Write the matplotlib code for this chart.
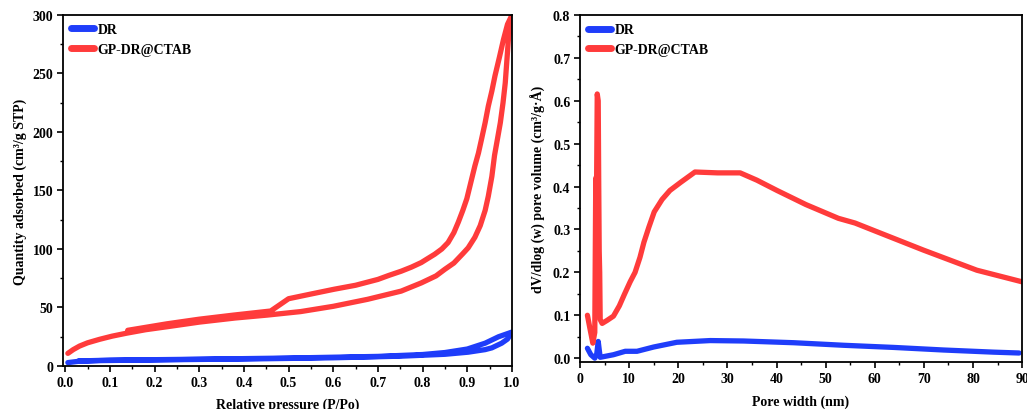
import matplotlib.pyplot as plt
from matplotlib.ticker import MultipleLocator, FormatStrFormatter

plt.rcParams['font.family'] = ['Liberation Serif', 'DejaVu Serif']
plt.rcParams['font.weight'] = 'bold'
plt.rcParams['axes.labelweight'] = 'bold'

RED = '#ff3b3b'
BLUE = '#1f3dfa'

# N2 isotherm, GP-DR@CTAB (adsorption then desorption branch)
gp_ads_p = [0.006, 0.018, 0.032, 0.05, 0.077, 0.105, 0.137, 0.18, 0.227, 0.30, 0.38, 0.452, 0.527,
            0.60, 0.677, 0.752, 0.797, 0.83, 0.85, 0.87, 0.89, 0.902, 0.917, 0.929, 0.94,
            0.947, 0.955, 0.961, 0.968, 0.974, 0.98, 0.985, 0.992, 1.0]
gp_ads_q = [10.8, 14, 17, 19.8, 22.8, 25.5, 28, 31, 33.5, 37.5, 41, 43.5, 46.5,
            51, 57, 64, 71, 77, 82.7, 88, 96, 101, 110, 120, 133,
            145, 162, 180, 195, 208, 225, 242, 279, 300]
gp_des_p = [1.0, 0.99, 0.981, 0.972, 0.962, 0.955, 0.947, 0.94, 0.932, 0.925, 0.917, 0.908,
            0.899, 0.89, 0.88, 0.87, 0.857, 0.843, 0.827, 0.81, 0.797, 0.775, 0.752, 0.725,
            0.70, 0.65, 0.602, 0.55, 0.50, 0.46, 0.377, 0.30, 0.227, 0.14]
gp_des_q = [300, 292, 279, 264, 248, 235, 222, 208, 194, 182, 171, 157,
            143, 133, 123, 114, 105.5, 100, 95.5, 91.5, 88.4, 84.5, 81, 77.5,
            74, 69, 65.6, 61.5, 57.5, 47, 43.5, 40, 36, 30.5]

# N2 isotherm, DR
dr_ads_p = [0.006, 0.03, 0.077, 0.227, 0.45, 0.60, 0.752, 0.85, 0.902, 0.94, 0.955, 0.977, 0.99, 1.0]
dr_ads_q = [2.9, 4.0, 4.6, 5.3, 6.2, 7.0, 8.4, 10.0, 11.8, 14.0, 15.5, 19.5, 23, 29]
dr_des_p = [1.0, 0.97, 0.94, 0.9, 0.85, 0.8, 0.7, 0.5, 0.3, 0.1, 0.03]
dr_des_q = [29, 25, 19.5, 14.5, 11.5, 9.8, 8.2, 6.8, 5.8, 5.0, 4.3]

# pore size distribution
gp_w = [1.5, 2.0, 2.6, 3.0, 3.2, 3.3, 3.5, 3.7, 3.8, 3.9, 4.0, 4.1, 4.5, 5.5, 6.8, 8.0, 9.0, 10.2,
        11.2, 12.2, 13.0, 14.0, 15.1, 16.7, 18.3, 20.5, 23.4, 28.0, 32.6, 36.0, 40.1, 46.0, 52.6, 56.0,
        60.4, 69.9, 80.8, 90.0]
gp_v = [0.10, 0.07, 0.035, 0.06, 0.42, 0.30, 0.616, 0.60, 0.41, 0.25, 0.20, 0.09, 0.081, 0.088, 0.098,
        0.122, 0.148, 0.178, 0.20, 0.235, 0.27, 0.305, 0.341, 0.37, 0.391, 0.41, 0.434, 0.432, 0.432,
        0.415, 0.391, 0.358, 0.326, 0.315, 0.295, 0.252, 0.205, 0.178]
dr_w = [1.5, 2.2, 3.0, 3.4, 3.7, 3.9, 4.1, 5.0, 6.8, 9.2, 11.6, 15.0, 19.7, 26.5, 33.3,
        43.5, 53.7, 63.9, 74.0, 84.2, 89.4]
dr_v = [0.023, 0.008, 0.0, 0.01, 0.039, 0.02, 0.002, 0.004, 0.008, 0.016, 0.016, 0.026, 0.037, 0.041, 0.040,
        0.036, 0.030, 0.025, 0.019, 0.014, 0.012]

fig = plt.figure(figsize=(10.27, 4.10), dpi=100)
ax1 = fig.add_axes([0.0613, 0.1049, 0.4372, 0.8561])
ax2 = fig.add_axes([0.5648, 0.1146, 0.4304, 0.8463])

line_kw = dict(lw=3.8, solid_capstyle='round', solid_joinstyle='round')

ax1.plot(dr_ads_p + dr_des_p, dr_ads_q + dr_des_q, color=BLUE, label='DR', **line_kw)
ax1.plot(gp_ads_p + gp_des_p, gp_ads_q + gp_des_q, color=RED, label='GP-DR@CTAB', **line_kw)
ax1.set_xlim(-0.005, 1.0)
ax1.set_ylim(0, 300)
ax1.xaxis.set_major_locator(MultipleLocator(0.1))
ax1.xaxis.set_minor_locator(MultipleLocator(0.05))
ax1.yaxis.set_major_locator(MultipleLocator(50))
ax1.yaxis.set_minor_locator(MultipleLocator(25))
ax1.xaxis.set_major_formatter(FormatStrFormatter('%.1f'))
ax1.set_xlabel('Relative pressure (P/Po)', fontsize=10, labelpad=6)
ax1.set_ylabel('Quantity adsorbed (cm³/g STP)', fontsize=10, labelpad=4)

ax2.plot(dr_w, dr_v, color=BLUE, label='DR', **line_kw)
ax2.plot(gp_w, gp_v, color=RED, label='GP-DR@CTAB', **line_kw)
ax2.set_xlim(0, 90)
ax2.set_ylim(-0.009, 0.8)
ax2.xaxis.set_major_locator(MultipleLocator(10))
ax2.xaxis.set_minor_locator(MultipleLocator(5))
ax2.yaxis.set_major_locator(MultipleLocator(0.1))
ax2.yaxis.set_minor_locator(MultipleLocator(0.05))
ax2.yaxis.set_major_formatter(FormatStrFormatter('%.1f'))
ax2.set_xlabel('Pore width (nm)', fontsize=10, labelpad=7)
ax2.set_ylabel('dV/dlog (w) pore volume (cm³/g·Å)', fontsize=10, labelpad=5)

for ax in (ax1, ax2):
    for s in ax.spines.values():
        s.set_linewidth(1.3)
    ax.tick_params(which='major', direction='out', length=4, width=1.2, labelsize=10, pad=3)
    ax.tick_params(which='minor', direction='out', length=2.5, width=1.0)
    for lab in ax.get_xticklabels() + ax.get_yticklabels():
        lab.set_fontweight('bold')
    leg = ax.legend(loc='upper left', frameon=False, handlelength=1.6,
                    handletextpad=0.3, borderaxespad=0.2, labelspacing=0.45,
                    prop={'weight': 'bold', 'size': 10})
    for h in leg.get_lines():
        h.set_linewidth(5)

fig.savefig('out.png', dpi=100)
